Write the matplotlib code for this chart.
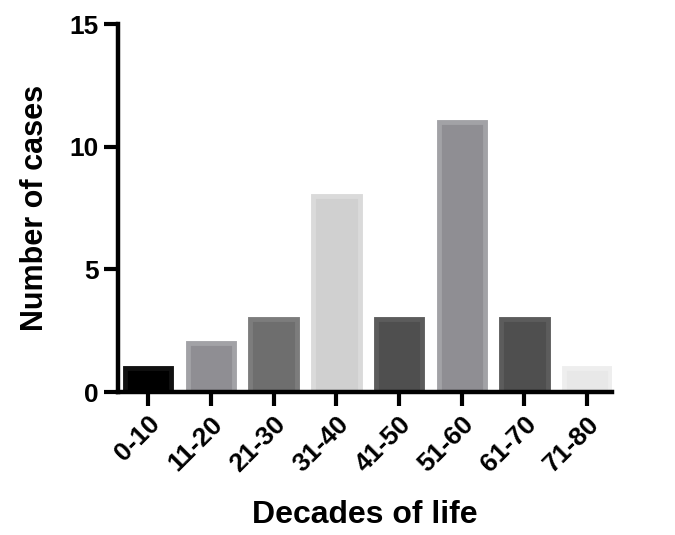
import matplotlib.pyplot as plt
import numpy as np

plt.rcParams['font.family'] = ['Liberation Sans', 'DejaVu Sans']
plt.rcParams['font.weight'] = 'bold'

decades = ['0-10', '11-20', '21-30', '31-40', '41-50', '51-60', '61-70', '71-80']
cases = [1, 2, 3, 8, 3, 11, 3, 1]
fills = ['#000000', '#8f8e93', '#6e6e6e', '#d0d0d0', '#4f4f4f', '#8f8e93', '#4f4f4f', '#e8e8e8']
edges = ['#111111', '#a2a2a6', '#7c7c7c', '#dadada', '#5c5c5c', '#a2a2a6', '#5c5c5c', '#eeeeee']

fig = plt.figure(figsize=(6.75, 5.35), dpi=100)
ax = fig.add_axes([0.175, 0.267, 0.732, 0.688])

x = np.arange(len(decades))
ax.bar(x, cases, width=0.74, color=fills, edgecolor=edges, linewidth=3.5)

ax.set_xlim(-0.48, 7.4)
ax.set_ylim(0, 15)
ax.set_yticks([0, 5, 10, 15])
ax.set_xticks(x)
ax.set_xticklabels(decades, rotation=45, ha='right', rotation_mode='anchor')

for s in ['top', 'right']:
    ax.spines[s].set_visible(False)
for s in ['left', 'bottom']:
    ax.spines[s].set_linewidth(3.2)
ax.tick_params(axis='both', width=3, length=10, labelsize=19, pad=4)

ax.set_xlabel('Decades of life', fontsize=23, fontweight='bold', labelpad=17)
ax.set_ylabel('Number of cases', fontsize=22, fontweight='bold', labelpad=14)

fig.savefig('out.png', dpi=100)
